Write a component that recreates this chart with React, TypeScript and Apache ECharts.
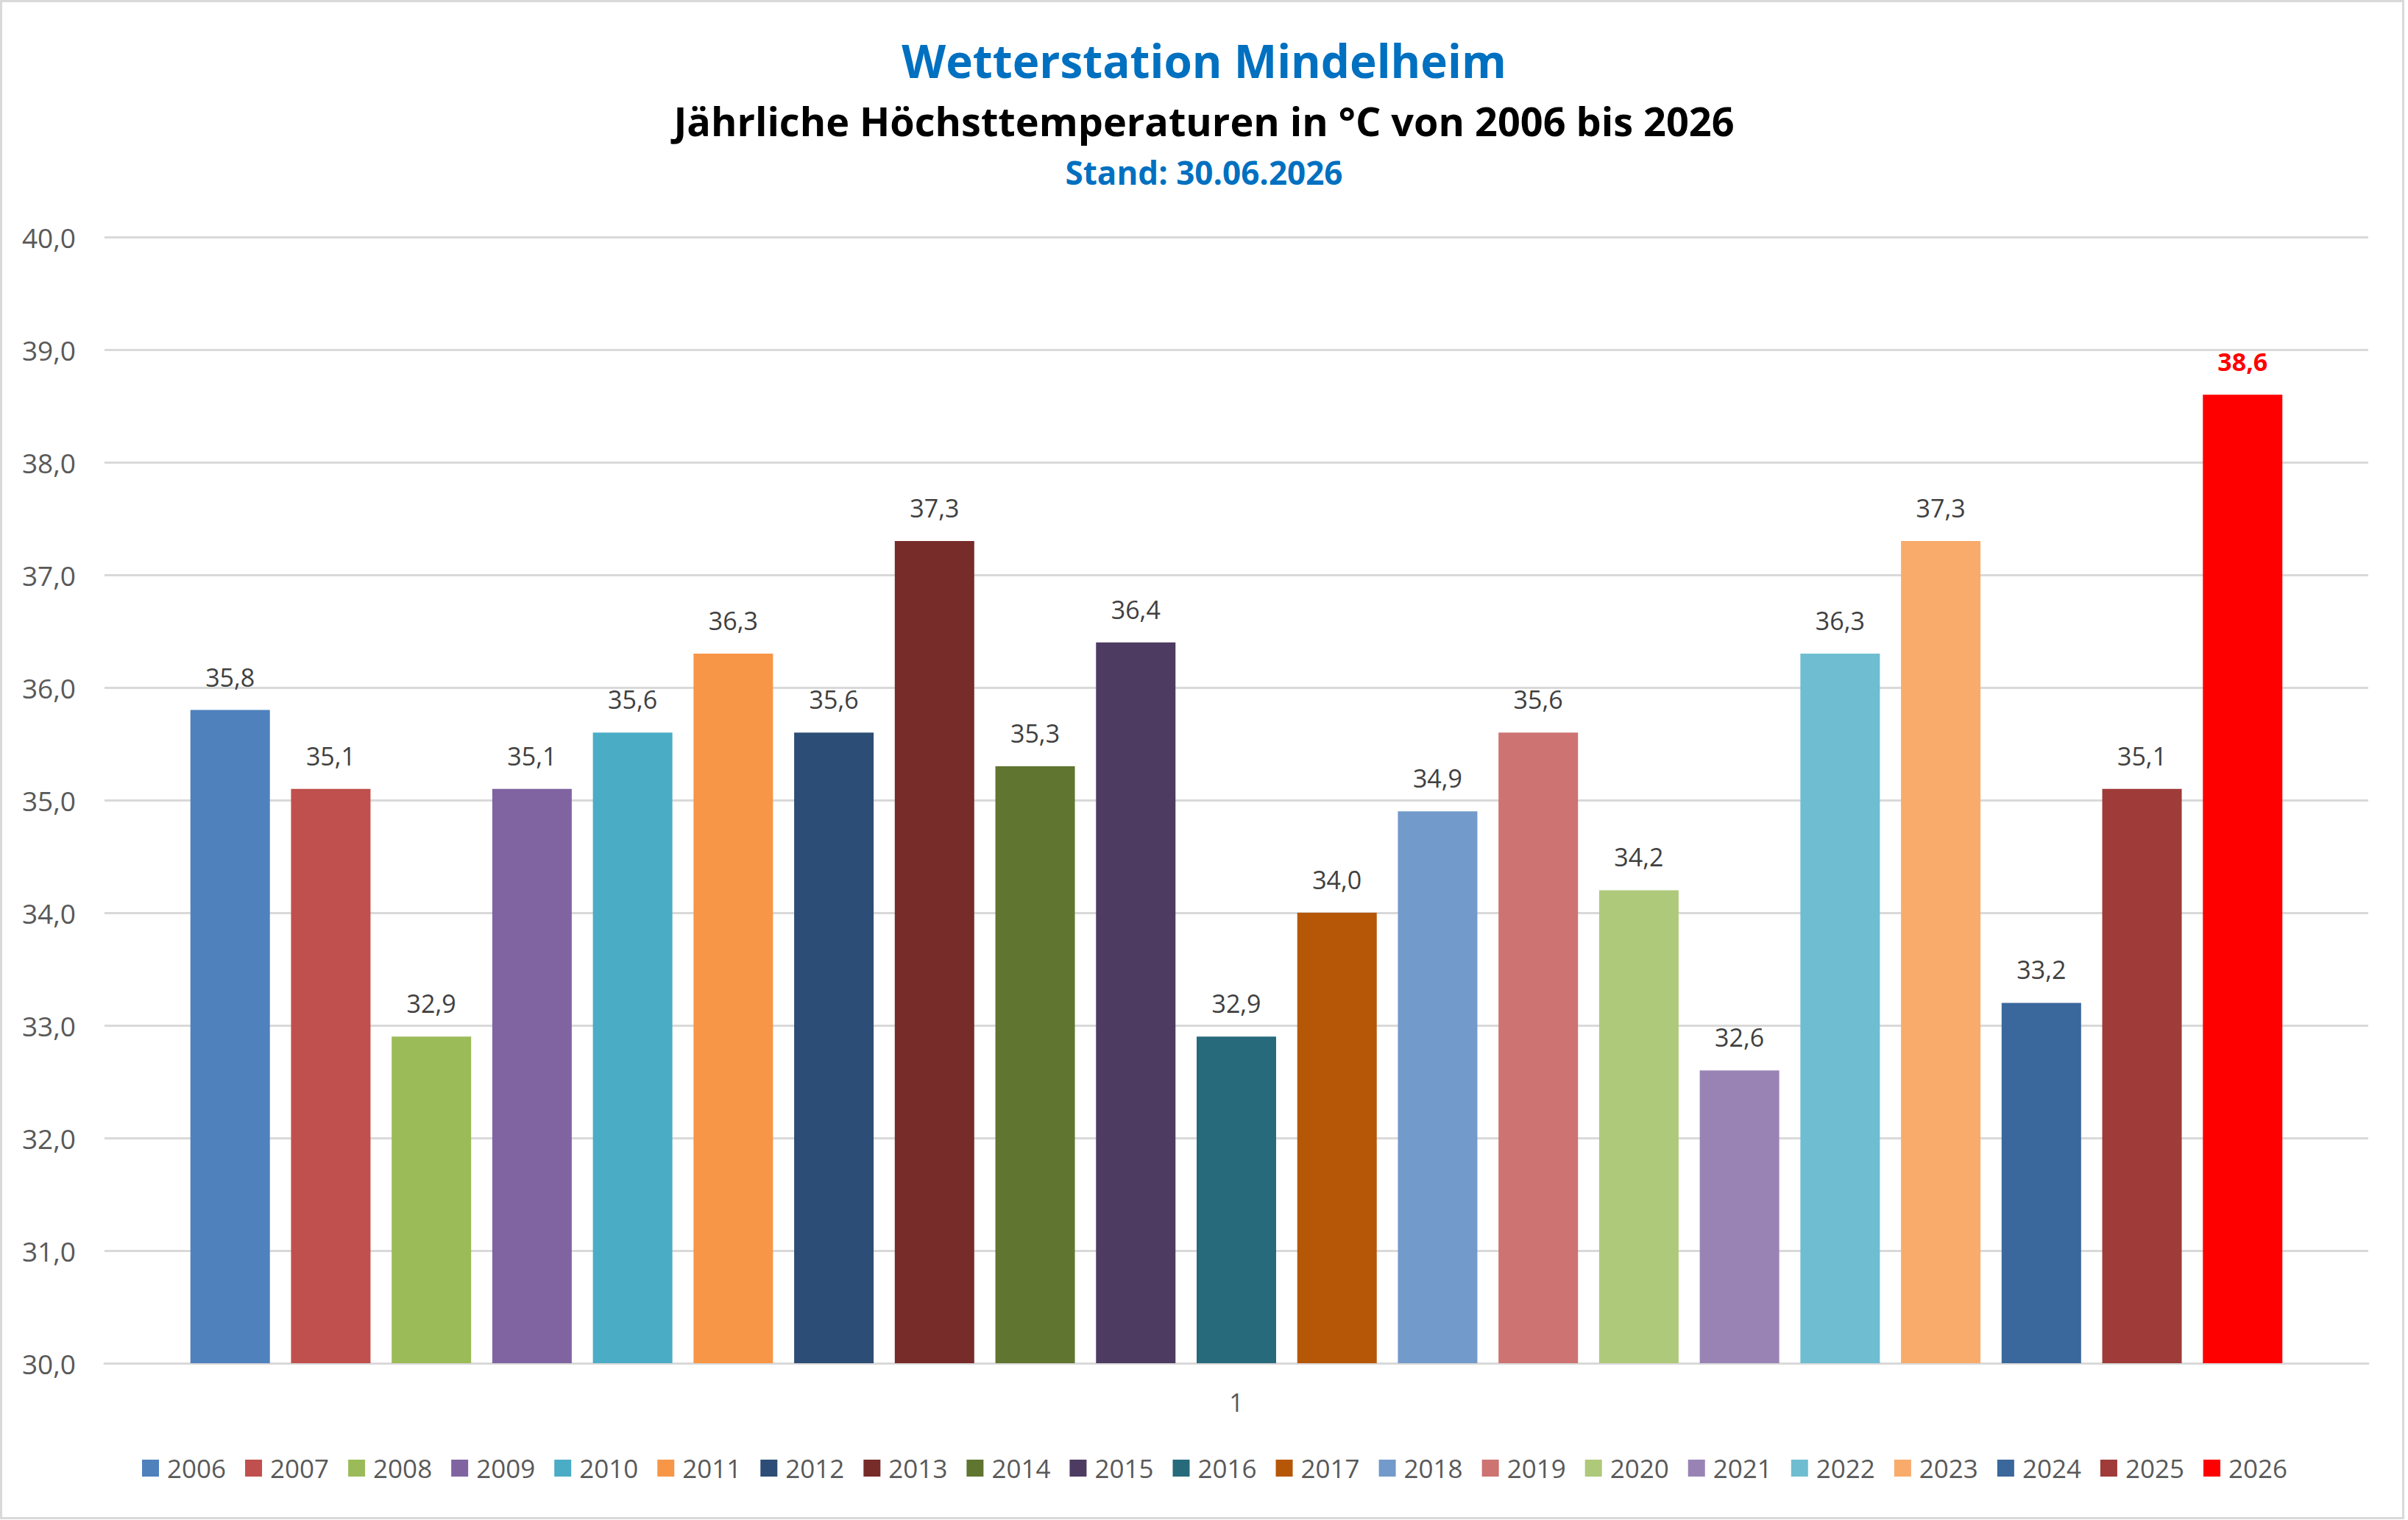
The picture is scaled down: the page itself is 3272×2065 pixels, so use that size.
import React, { useEffect, useRef } from "react";
import * as echarts from "echarts";

const categories = ["1"];
const years = [
  "2006", "2007", "2008", "2009", "2010", "2011", "2012", "2013", "2014", "2015",
  "2016", "2017", "2018", "2019", "2020", "2021", "2022", "2023", "2024", "2025", "2026",
];
const maxTemps = [
  35.8, 35.1, 32.9, 35.1, 35.6, 36.3, 35.6, 37.3, 35.3, 36.4,
  32.9, 34.0, 34.9, 35.6, 34.2, 32.6, 36.3, 37.3, 33.2, 35.1, 38.6,
];
const barColors = [
  "#4F81BD", "#C0504D", "#9BBB59", "#8064A2", "#4BACC6", "#F79646", "#2C4D75",
  "#772C2A", "#5F7530", "#4D3B62", "#276A7C", "#B65708", "#729ACA", "#CD7371",
  "#AFC97A", "#9983B5", "#6FBDD1", "#F9AB6B", "#3A679C", "#9F3B38", "#FF0000",
];
const yMin = 30;
const yMax = 40;
const yInterval = 1;

const titleMain = "Wetterstation Mindelheim";
const titleSub = "Jährliche Höchsttemperaturen in °C von 2006 bis 2026";
const titleDate = "Stand: 30.06.2026";

const FONT = "'Open Sans', 'Noto Sans', sans-serif";
const W = 3272;
const H = 2065;

const fmt = (v: number) => v.toFixed(1).replace(".", ",");

export default function App() {
  const ref = useRef<HTMLDivElement>(null);
  useEffect(() => {
    document.body.style.margin = "0";
    if (!ref.current) return;
    const chart = echarts.init(ref.current, undefined, { renderer: "svg" });
    const last = years.length - 1;
    const series = years.map((y, i) => ({
      name: y,
      type: "bar",
      data: [maxTemps[i]],
      barWidth: 108,
      barGap: "26.6%",
      itemStyle: { color: barColors[i] },
      label: {
        show: true,
        position: "top",
        distance: 28,
        formatter: (p: any) => fmt(p.value),
        fontFamily: FONT,
        fontSize: 34,
        fontWeight: i === last ? "bold" : "normal",
        color: i === last ? "#FF0000" : "#404040",
      },
    }));
    chart.setOption({
      animation: false,
      backgroundColor: "#FFFFFF",
      grid: { left: 142, right: 54, top: 322, bottom: 213, containLabel: false },
      xAxis: {
        type: "category",
        data: categories,
        axisLine: { show: true, lineStyle: { color: "#D9D9D9", width: 3 } },
        axisTick: { show: false },
        axisLabel: { color: "#595959", fontFamily: FONT, fontSize: 34, margin: 36 },
        splitLine: { show: false },
      },
      yAxis: {
        type: "value",
        min: yMin,
        max: yMax,
        interval: yInterval,
        axisLine: { show: false },
        axisTick: { show: false },
        axisLabel: {
          color: "#595959",
          fontFamily: FONT,
          fontSize: 37,
          margin: 39,
          formatter: (v: number) => fmt(v),
        },
        splitLine: { show: true, lineStyle: { color: "#D9D9D9", width: 3 } },
      },
      legend: {
        data: years,
        left: 188,
        top: 1972,
        icon: "rect",
        itemWidth: 23,
        itemHeight: 23,
        itemGap: 26,
        textStyle: { color: "#595959", fontFamily: FONT, fontSize: 35, padding: [0, 0, 0, 6] },
      },
      graphic: [
        {
          type: "rect",
          shape: { x: 1.5, y: 1.5, width: 3264, height: 2061 },
          style: { fill: "none", stroke: "#D9D9D9", lineWidth: 3 },
          silent: true,
        },
        {
          type: "text",
          x: W / 2,
          y: 82,
          style: {
            text: titleMain,
            fontFamily: FONT,
            fontSize: 62,
            fontWeight: "bold",
            fill: "#0070C0",
            textAlign: "center",
            textVerticalAlign: "middle",
          },
        },
        {
          type: "text",
          x: W / 2,
          y: 164,
          style: {
            text: titleSub,
            fontFamily: FONT,
            fontSize: 54,
            fontWeight: "bold",
            fill: "#000000",
            textAlign: "center",
            textVerticalAlign: "middle",
          },
        },
        {
          type: "text",
          x: W / 2,
          y: 234,
          style: {
            text: titleDate,
            fontFamily: FONT,
            fontSize: 44,
            fontWeight: "bold",
            fill: "#0070C0",
            textAlign: "center",
            textVerticalAlign: "middle",
          },
        },
      ],
      series,
    });
    return () => chart.dispose();
  }, []);
  return <div ref={ref} style={{ width: W, height: H }} />;
}
